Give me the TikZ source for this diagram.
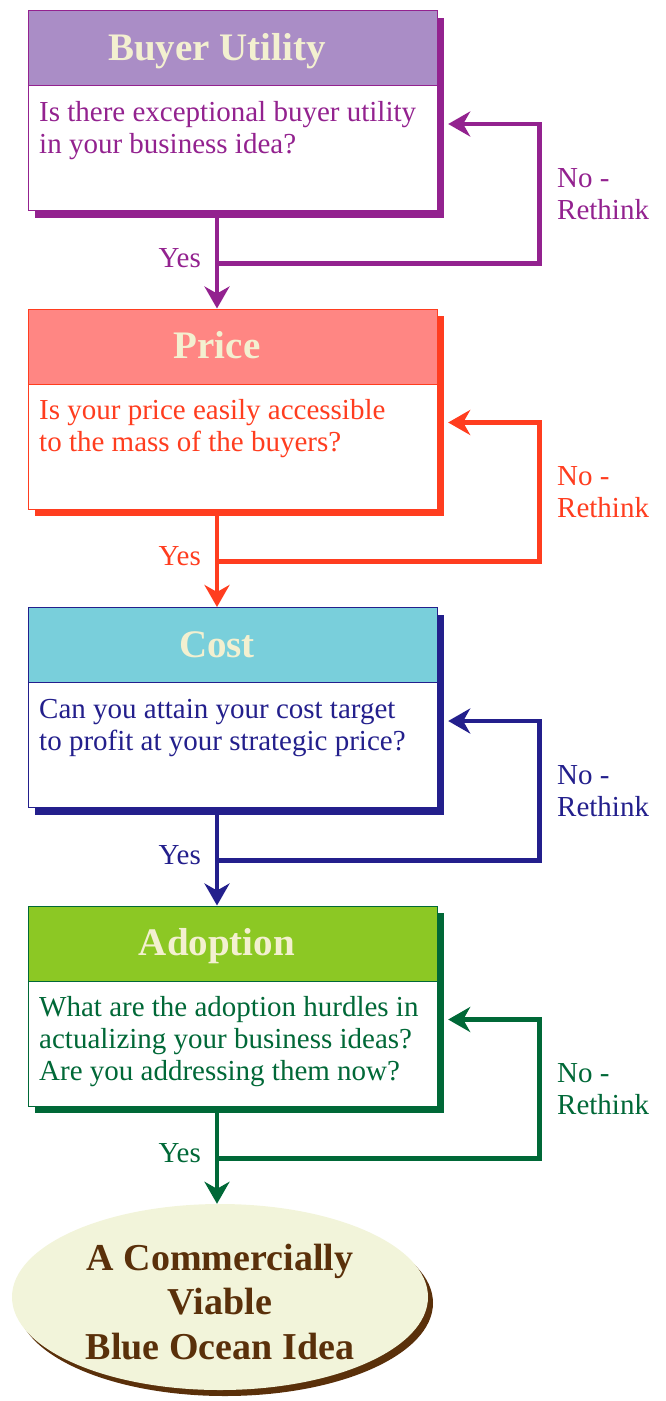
\documentclass[tikz,border=0pt]{standalone}
\usepackage{fontspec}
\setmainfont{Liberation Serif}
\usetikzlibrary{arrows.meta,shapes.geometric,shadows,calc}

\definecolor{utilLine}{HTML}{93228F}
\definecolor{utilHead}{HTML}{AA8DC6}
\definecolor{priceLine}{HTML}{FF3D1F}
\definecolor{priceHead}{HTML}{FF8683}
\definecolor{costLine}{HTML}{231F8C}
\definecolor{costHead}{HTML}{79CFDB}
\definecolor{adoptLine}{HTML}{006837}
\definecolor{adoptHead}{HTML}{8CC824}
\definecolor{titleInk}{HTML}{F3F0D0}
\definecolor{goalFill}{HTML}{F2F4DA}
\definecolor{goalInk}{HTML}{5A300A}

\tikzset{
  stagebox/.style={draw=#1, line width=1.2pt, fill=white, minimum width=409pt,
    minimum height=200pt, inner sep=0pt, anchor=north west,
    general shadow={fill=#1, shadow xshift=6.5pt, shadow yshift=-7pt}},
  stagehead/.style={draw=#1, line width=1.2pt, minimum width=409pt,
    minimum height=75pt, inner sep=0pt, anchor=north},
  stagetitle/.style={text=titleInk, font=\fontsize{39}{42}\selectfont\bfseries,
    inner sep=0pt, anchor=base},
  question/.style={text=#1, font=\fontsize{29}{32}\selectfont, align=left,
    inner sep=0pt, anchor=north west},
  tip/.style={-{Stealth[length=22pt,width=25pt,inset=7pt]}},
  flow/.style={draw=#1, line width=4.6pt, tip},
  yeslabel/.style={text=#1, font=\fontsize{29}{32}\selectfont, inner sep=0pt,
    anchor=base east},
  nolabel/.style={text=#1, font=\fontsize{29}{32}\selectfont, align=left,
    inner sep=0pt, anchor=north west},
  goal/.style={ellipse, fill=goalFill, minimum width=416pt, minimum height=186pt,
    inner sep=0pt, text=goalInk, font=\fontsize{38}{44.5}\selectfont\bfseries,
    align=center, general shadow={fill=goalInk, shadow xshift=5pt, shadow yshift=-6pt}},
}

% one decision stage: box with coloured heading, question, "Yes" label
% and the "No - Rethink" loop back into the box
% #1 name, #2 top, #3 line colour, #4 heading colour, #5 title, #6 question
\newcommand\drawstage[6]{%
  \node[stagebox=#3] (#1) at (28,#2) {};
  \node[stagehead=#3, fill=#4] (#1head) at (#1.north) {};
  \node[stagetitle] (#1title) at ($(#1.north -| spine)+(0,50)$) {#5};
  \node[question=#3] (#1text) at ($(#1.north west)+(11,88.6)$) {\strut #6};
  \coordinate (#1split) at ($(#1.south -| spine)+(0,52)$);
  \coordinate (#1turn) at ($(#1.north east)+(101,114)$);
  \coordinate (#1entry) at ($(#1.north east)+(10,114)$);
  \draw[flow=#3] (#1split) -| (#1turn) -- (#1entry);
  \node[yeslabel=#3] (#1yes) at ($(#1.south -| spine)+(-16,56)$) {Yes};
  \node[nolabel=#3] (#1no) at ($(#1.north west)+(529,154.6)$) {\strut No -\\Rethink};
}

\begin{document}
\begin{tikzpicture}[x=1pt,y=-1pt]
  \useasboundingbox (0,0) rectangle (665,1401);
  \coordinate (spine) at (217,0);

  \drawstage{utility}{10}{utilLine}{utilHead}{Buyer Utility}
    {Is there exceptional buyer utility\\in your business idea?}
  \drawstage{price}{308.5}{priceLine}{priceHead}{Price}
    {Is your price easily accessible\\to the mass of the buyers?}
  \drawstage{cost}{607}{costLine}{costHead}{Cost}
    {Can you attain your cost target\\to profit at your strategic price?}
  \drawstage{adopt}{905.5}{adoptLine}{adoptHead}{Adoption}
    {What are the adoption hurdles in\\actualizing your business ideas?\\Are you addressing them now?}

  \node[goal] (idea) at (220,1297) {};
  \node[text=goalInk, font=\fontsize{38}{44.5}\selectfont\bfseries, align=center,
    inner sep=0pt] (ideatext) at ($(idea.center)+(0,5)$)
    {A Commercially\\Viable\\Blue Ocean Idea};

  \draw[flow=utilLine] (utility.south -| spine) -- (price.north -| spine);
  \draw[flow=priceLine] (price.south -| spine) -- (cost.north -| spine);
  \draw[flow=costLine] (cost.south -| spine) -- (adopt.north -| spine);
  \draw[flow=adoptLine] (adopt.south -| spine) -- (idea.north -| spine);
\end{tikzpicture}
\end{document}
